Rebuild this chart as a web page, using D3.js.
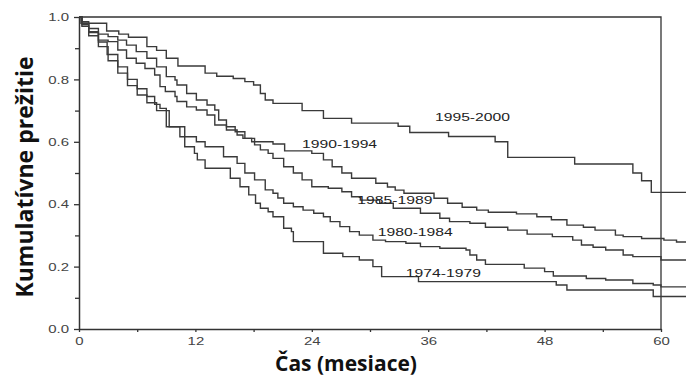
<!doctype html>
<html lang="sk">
<head>
  <meta charset="utf-8">
  <title>Kumulatívne prežitie</title>
  <style>
    body { margin: 0; background: #fff; }
    svg { display: block; }
  </style>
</head>
<body>
<div id="chart"></div>

<script src="https://cdnjs.cloudflare.com/ajax/libs/d3/7.8.5/d3.min.js" charset="utf-8"></script>
<script type="text/javascript">

// cohorts (labels on the curves)
const cohorts = ["1995-2000", "1990-1994", "1985-1989", "1980-1984", "1974-1979"]

// Kaplan-Meier steps: [months, survival]
const surv1995 = [[0,1],[0.2,0.98],[2.85,0.955],[4.1,0.945],[5.1,0.935],[7.0,0.905],[8.0,0.893],[9.0,0.868],[10.2,0.843],[13.0,0.82],[14.2,0.81],[15.9,0.803],[17.1,0.793],[18.0,0.782],[18.7,0.755],[19.2,0.734],[20.0,0.723],[23.0,0.70],[25.2,0.675],[28.1,0.66],[32.9,0.65],[34.1,0.63],[38.1,0.617],[42.9,0.60],[44.2,0.55],[51.1,0.529],[57.1,0.50],[58.0,0.475],[59.0,0.438],[62.6,0.438]]
const surv1990 = [[0,1],[0.3,0.985],[1,0.963],[2,0.945],[3,0.937],[4,0.926],[4.9,0.91],[5.9,0.889],[7.0,0.868],[8.0,0.84],[9.0,0.809],[9.9,0.798],[10.1,0.782],[11.1,0.755],[12.1,0.734],[13.2,0.718],[14.0,0.702],[14.4,0.67],[15.2,0.648],[16.1,0.632],[17.1,0.611],[17.8,0.60],[20.0,0.593],[21.2,0.571],[24.0,0.563],[25.2,0.542],[26.1,0.52],[27.1,0.50],[28.1,0.483],[30.6,0.467],[31.8,0.455],[32.6,0.445],[33.5,0.435],[36.6,0.419],[38.0,0.403],[39.5,0.39],[41.0,0.381],[42.2,0.374],[45.1,0.369],[47.2,0.36],[48.7,0.35],[50.3,0.333],[52.0,0.326],[53.2,0.317],[55.3,0.301],[56.1,0.296],[58.0,0.29],[60.3,0.285],[61.6,0.279],[62.6,0.279]]
const surv1985 = [[0,1],[0.3,0.98],[1,0.953],[2,0.926],[3,0.921],[4,0.894],[4.9,0.868],[5.9,0.852],[6.8,0.835],[7.8,0.814],[8.35,0.777],[8.9,0.761],[9.9,0.745],[10.1,0.729],[11.1,0.712],[12.1,0.702],[13.2,0.686],[14.0,0.654],[15.2,0.638],[16.3,0.622],[16.9,0.611],[18.1,0.59],[18.7,0.574],[19.5,0.563],[20.0,0.547],[21.1,0.52],[22.1,0.50],[23.0,0.478],[24.0,0.456],[25.7,0.451],[27.1,0.44],[28.1,0.424],[29.0,0.413],[31.0,0.403],[32.4,0.387],[35.2,0.371],[37.2,0.355],[38.2,0.344],[40.3,0.339],[41.9,0.326],[44.2,0.317],[46.2,0.304],[48.8,0.296],[50.9,0.285],[51.8,0.269],[53.0,0.262],[54.3,0.253],[56.1,0.237],[57.1,0.232],[60.0,0.221],[62.6,0.221]]
const surv1980 = [[0,1],[0.3,0.975],[1,0.95],[2,0.92],[2.9,0.88],[4,0.84],[5,0.80],[6,0.77],[7,0.745],[7.8,0.72],[8.35,0.707],[9.0,0.648],[10.9,0.616],[12.1,0.60],[13.0,0.584],[14.9,0.552],[16.3,0.531],[17.1,0.50],[18.1,0.478],[19.2,0.446],[20.0,0.435],[20.5,0.42],[21.1,0.403],[22.1,0.392],[23.1,0.381],[24.2,0.371],[25.2,0.36],[25.9,0.344],[26.9,0.328],[27.9,0.312],[28.9,0.301],[30.3,0.285],[31.6,0.28],[33.7,0.275],[35.2,0.264],[37.2,0.259],[39.9,0.253],[40.3,0.237],[41.0,0.221],[41.9,0.207],[45.9,0.195],[48.0,0.184],[48.9,0.17],[52.3,0.162],[54.3,0.157],[57.1,0.146],[59.2,0.141],[60.0,0.135],[62.6,0.135]]
const surv1974 = [[0,1],[0.3,0.97],[1,0.94],[2,0.905],[3,0.86],[4,0.82],[5,0.78],[6,0.75],[7,0.725],[8,0.70],[9.3,0.648],[10.4,0.616],[10.9,0.584],[11.9,0.563],[12.2,0.542],[13.0,0.515],[15.6,0.483],[16.6,0.456],[17.5,0.43],[18.2,0.403],[18.7,0.387],[19.5,0.376],[20.0,0.36],[21.1,0.323],[21.9,0.312],[22.1,0.28],[25.2,0.243],[27.2,0.232],[28.9,0.221],[30.3,0.2],[31.2,0.168],[35.0,0.152],[49.2,0.141],[50.3,0.125],[59.2,0.104],[62.6,0.104]]

// axis ticks
const xTicks = [0, 12, 24, 36, 48, 60]
const xMinor = [6, 18, 30, 42, 54]
const yTicks = [0, 0.2, 0.4, 0.6, 0.8, 1.0]
const yMinor = [0.1, 0.3, 0.5, 0.7, 0.9]

const series = [surv1995, surv1990, surv1985, surv1980, surv1974]

const w = 686, h = 376
const margin = { top: 17, right: 25, bottom: 47, left: 79 }

let svg = d3.select("#chart").append("svg")
  .attr("width", w)
  .attr("height", h)

let x = d3.scaleLinear().domain([0, 60]).range([margin.left, w - margin.right])
let y = d3.scaleLinear().domain([0, 1]).range([h - margin.bottom, margin.top])

// stretch text horizontally like the scanned figure
function widen(sel, k) {
  sel.each(function() {
    let len = this.getComputedTextLength()
    d3.select(this).attr("textLength", len * k).attr("lengthAdjust", "spacingAndGlyphs")
  })
}

// frame: top and right edges
svg.append("path")
  .attr("d", `M${x(0)},${y(1)}H${x(60)}V${y(0)}`)
  .attr("fill", "none")
  .attr("stroke", "#333")
  .attr("stroke-width", 1.3)

// y axis
let yAxis = svg.append("g")
  .attr("transform", `translate(${x(0)},0)`)
  .call(d3.axisLeft(y).tickValues(yTicks).tickFormat(d3.format(".1f")).tickSize(5).tickPadding(5).tickSizeOuter(0))
svg.append("g")
  .attr("transform", `translate(${x(0)},0)`)
  .call(d3.axisLeft(y).tickValues(yMinor).tickFormat("").tickSize(4).tickSizeOuter(0))
  .call(g => g.select(".domain").remove())

// x axis
let xAxis = svg.append("g")
  .attr("transform", `translate(0,${y(0)})`)
  .call(d3.axisBottom(x).tickValues(xTicks).tickSize(3).tickPadding(5).tickSizeOuter(0))
svg.append("g")
  .attr("transform", `translate(0,${y(0)})`)
  .call(d3.axisBottom(x).tickValues(xMinor).tickFormat("").tickSize(3).tickSizeOuter(0))
  .call(g => g.select(".domain").remove())

svg.selectAll(".domain").attr("stroke", "#333").attr("stroke-width", 1.5)
svg.selectAll(".tick line").attr("stroke", "#333").attr("stroke-width", 1.3)
svg.selectAll(".tick text")
  .attr("fill", "#444")
  .style("font-family", "'Liberation Sans', Arial, sans-serif")
  .style("font-size", "11.5px")
widen(svg.selectAll(".tick text"), 1.3)

// survival curves
let line = d3.line()
  .x(d => x(d[0]))
  .y(d => y(d[1]))
  .curve(d3.curveStepAfter)

svg.append("g").selectAll("path")
  .data(series)
  .join("path")
    .attr("d", line)
    .attr("fill", "none")
    .attr("stroke", "#3a3a3a")
    .attr("stroke-width", 1.4)

// cohort labels, placed in data units
const labelAt = [[36.7, 0.667], [23.0, 0.58], [28.7, 0.40], [30.8, 0.298], [33.7, 0.167]]
let labels = svg.append("g").selectAll("text")
  .data(cohorts)
  .join("text")
    .attr("x", (d, i) => x(labelAt[i][0]))
    .attr("y", (d, i) => y(labelAt[i][1]))
    .text(d => d)
    .attr("fill", "#222")
    .style("font-family", "'Liberation Sans', Arial, sans-serif")
    .style("font-size", "11.5px")
labels.attr("textLength", 75).attr("lengthAdjust", "spacingAndGlyphs")

// axis titles
svg.append("text")
  .attr("transform", `translate(33,177) rotate(-90)`)
  .attr("text-anchor", "middle")
  .style("font-family", "'Open Sans', sans-serif")
  .style("font-weight", "bold")
  .style("font-size", "23px")
  .attr("fill", "#111")
  .text("Kumulatívne prežitie")

svg.append("text")
  .attr("x", 346)
  .attr("y", 371)
  .attr("text-anchor", "middle")
  .style("font-family", "'Open Sans', sans-serif")
  .style("font-weight", "bold")
  .style("font-size", "21px")
  .attr("fill", "#111")
  .text("Čas (mesiace)")

</script>
</body>
</html>
